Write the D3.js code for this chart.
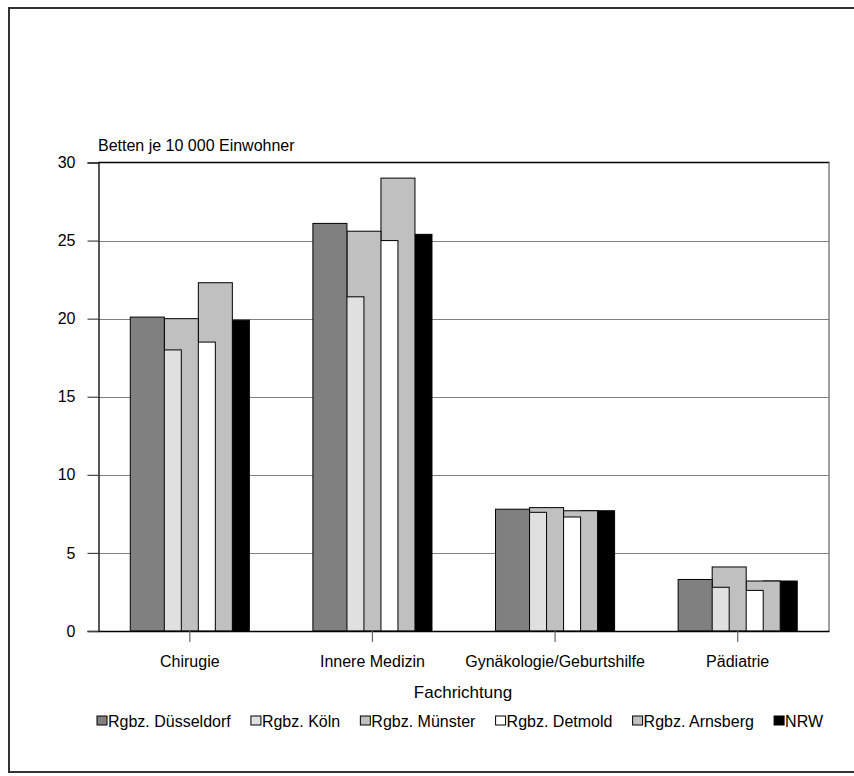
<!DOCTYPE html>
<html>
<head>
<meta charset="utf-8">
<script src="https://cdn.jsdelivr.net/npm/d3@7"></script>
<style>
  html, body { margin: 0; padding: 0; background: #fff; }
  svg { display: block; }
  text { font-family: "Liberation Sans", Arial, sans-serif; fill: #000; }
</style>
</head>
<body>
<svg id="chart" width="854" height="776"></svg>
<script>
// Krankenhausbetten je 10 000 Einwohner nach Fachrichtung und Regierungsbezirk
const categories = ["Chirugie", "Innere Medizin", "Gynäkologie/Geburtshilfe", "Pädiatrie"];
const seriesNames = ["Rgbz. Düsseldorf", "Rgbz. Köln", "Rgbz. Münster", "Rgbz. Detmold", "Rgbz. Arnsberg", "NRW"];
const duesseldorf = [20.1, 26.1, 7.8, 3.3];
const koeln       = [18.0, 21.4, 7.6, 2.8];
const muenster    = [20.0, 25.6, 7.9, 4.1];
const detmold     = [18.5, 25.0, 7.3, 2.6];
const arnsberg    = [22.3, 29.0, 7.7, 3.2];
const nrw         = [19.9, 25.4, 7.7, 3.2];
const seriesValues = [duesseldorf, koeln, muenster, detmold, arnsberg, nrw];
const seriesColors = ["#808080", "#e0e0e0", "#c0c0c0", "#ffffff", "#c0c0c0", "#000000"];
const yTicks = [0, 5, 10, 15, 20, 25, 30];
const yLabel = "Betten je 10 000 Einwohner";
const xLabel = "Fachrichtung";

const FONT = "Liberation Sans, Arial, sans-serif";
const svg = d3.select("#chart");

// outer frame
svg.append("rect")
  .attr("x", 9).attr("y", 8).attr("width", 860).attr("height", 764)
  .attr("fill", "none").attr("stroke", "#333").attr("stroke-width", 2);

const plot = { left: 98.5, right: 829, top: 162.5, bottom: 631 };

const y = d3.scaleLinear().domain([0, 30]).range([plot.bottom, plot.top]);
const x = d3.scaleBand().domain(categories).range([plot.left, plot.right]).padding(0);

// clustered bars overlap by half a bar width
const groupWidth = x.bandwidth() * 0.652;
const barW = groupWidth / 3.5;
const step = barW / 2;

// gridlines
svg.append("g").selectAll("line")
  .data(yTicks.filter(t => t > 0 && t < 30))
  .join("line")
  .attr("x1", plot.left).attr("x2", plot.right)
  .attr("y1", d => Math.round(y(d)) + 0.5).attr("y2", d => Math.round(y(d)) + 0.5)
  .attr("stroke", "#808080").attr("stroke-width", 1.2);

// plot border top / right
svg.append("line")
  .attr("x1", plot.left).attr("x2", plot.right + 0.5)
  .attr("y1", plot.top).attr("y2", plot.top)
  .attr("stroke", "#000").attr("stroke-width", 1.5);
svg.append("line")
  .attr("x1", plot.right).attr("x2", plot.right)
  .attr("y1", plot.top).attr("y2", plot.bottom)
  .attr("stroke", "#808080").attr("stroke-width", 1.5);

// bars, drawn last series first so earlier series sit on top
const bars = svg.append("g");
for (let s = seriesNames.length - 1; s >= 0; s--) {
  bars.append("g").selectAll("rect")
    .data(categories.map((c, i) => ({ c, v: seriesValues[s][i] })))
    .join("rect")
    .attr("x", d => x(d.c) + x.bandwidth() / 2 - groupWidth / 2 + s * step)
    .attr("y", d => y(d.v))
    .attr("width", barW)
    .attr("height", d => plot.bottom - y(d.v))
    .attr("fill", seriesColors[s])
    .attr("stroke", "#000").attr("stroke-width", 1);
}

// y axis
const yAxis = d3.axisLeft(y).tickValues(yTicks).tickSize(11).tickPadding(12).tickFormat(d3.format("d"));
const gy = svg.append("g").attr("transform", `translate(${plot.left},0)`).call(yAxis);
gy.select(".domain").attr("stroke", "#000").attr("stroke-width", 1.3);
gy.selectAll(".tick line").attr("stroke", "#444").attr("stroke-width", 1.2);
gy.selectAll(".tick text").attr("font-size", 16).attr("font-family", FONT).attr("fill", "#000");

// x axis
const xAxis = d3.axisBottom(x).tickSize(11).tickSizeOuter(0).tickPadding(14);
const gx = svg.append("g").attr("transform", `translate(0,${plot.bottom})`).call(xAxis);
gx.select(".domain").attr("stroke", "#000").attr("stroke-width", 1.3);
gx.selectAll(".tick line").attr("stroke", "#666").attr("stroke-width", 1.2);
gx.selectAll(".tick text").attr("font-size", 16).attr("font-family", FONT).attr("fill", "#000");

// axis titles
svg.append("text").attr("x", 98).attr("y", 151).attr("font-size", 16).text(yLabel);
svg.append("text").attr("x", 463).attr("y", 698).attr("text-anchor", "middle").attr("font-size", 17).text(xLabel);

// legend
const legend = svg.append("g");
const legStart = 97, legEnd = 823, legY = 721, sw = 10;
const items = seriesNames.map((n, i) => {
  const g = legend.append("g");
  g.append("rect").attr("y", legY - 5).attr("width", sw).attr("height", 9)
    .attr("fill", seriesColors[i]).attr("stroke", "#000").attr("stroke-width", 1);
  const t = g.append("text").attr("x", sw + 1).attr("y", legY + 5.5).attr("font-size", 16).text(n);
  return { g, w: sw + 1 + t.node().getComputedTextLength() };
});
const totalW = d3.sum(items, d => d.w);
const gap = (legEnd - legStart - totalW) / (items.length - 1);
let cx = legStart;
items.forEach(it => { it.g.attr("transform", `translate(${cx},0)`); cx += it.w + gap; });
</script>
</body>
</html>
